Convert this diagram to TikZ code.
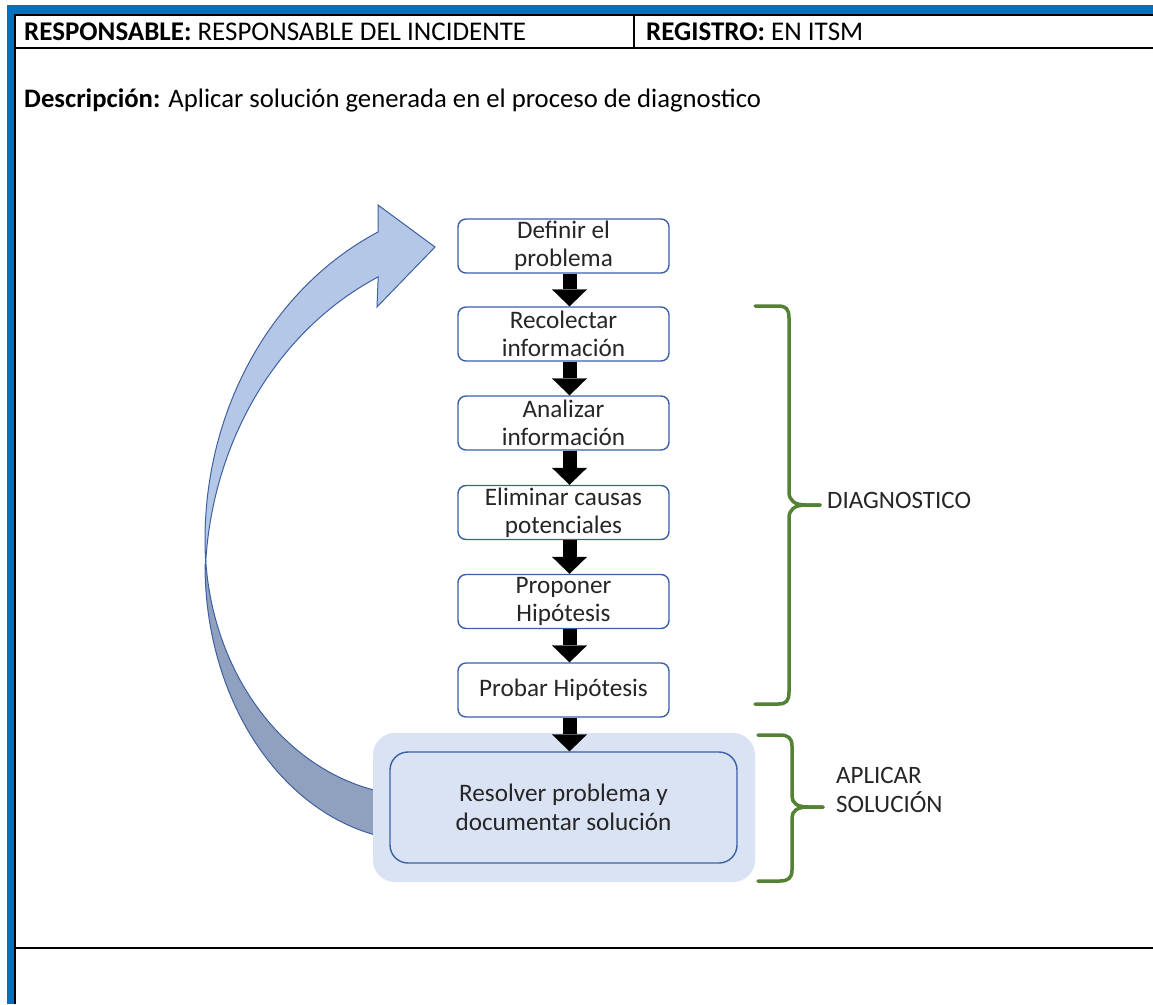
\documentclass[tikz,border=0pt]{standalone}
\usepackage{fontspec}
\setmainfont{Carlito}
\usetikzlibrary{arrows.meta}

\definecolor{pageblue}{RGB}{0,112,192}
\definecolor{boxline}{RGB}{58,96,168}
\definecolor{arrowline}{RGB}{62,96,160}
\definecolor{frontblue}{RGB}{180,199,231}
\definecolor{backblue}{RGB}{143,161,190}
\definecolor{paleblue}{RGB}{218,227,243}
\definecolor{bracegreen}{RGB}{84,130,53}
\definecolor{txt}{RGB}{38,38,38}

\newcommand\hdrfont{\fontsize{27}{30}\selectfont}
\newcommand\descfont{\fontsize{26.7}{30}\selectfont}
\newcommand\boxfont{\fontsize{25.2}{28}\selectfont}
\newcommand\lblfont{\fontsize{25}{29}\selectfont}

\tikzset{
  rule/.style={draw=black, line width=2pt},
  stepbox/.style={draw=boxline, line width=1.4pt, rounded corners=8pt, fill=white,
    minimum width=211pt, minimum height=54pt, inner sep=0pt, align=center,
    font=\boxfont, text=txt},
  blockarrow/.style={draw=black, line width=14pt,
    -{Triangle[width=35pt 0 0, length=17pt 0 0, line width=0.4pt 0 0]}},
  brace/.style={draw=bracegreen, line width=3.5pt, line cap=round},
  label/.style={font=\lblfont, text=txt, inner sep=0pt},
}

\begin{document}
\begin{tikzpicture}[x=1pt,y=-1pt]
\useasboundingbox (0,0) rectangle (1153,1004);
\fill[white] (0,0) rectangle (1153,1004);

% page frame
\fill[pageblue] (7,5) rectangle (1153,14);
\fill[pageblue] (7,5) rectangle (14,1004);

% table rules
\draw[rule] (15,15) -- (1153,15);
\draw[rule] (15,47.5) -- (1153,47.5);
\draw[rule] (634,15) -- (634,47.5);
\draw[draw=black, line width=1.5pt] (14.8,14) -- (14.8,1004);
\draw[rule] (15,948) -- (1153,948);

% header cells
\node[anchor=base west, inner sep=0pt, font=\hdrfont] (resp) at (24,40)
  {\textbf{RESPONSABLE:} RESPONSABLE DEL INCIDENTE};
\node[anchor=base west, inner sep=0pt, font=\hdrfont] (reg) at (646,40)
  {\textbf{REGISTRO:} EN ITSM};
\node[anchor=base west, inner sep=0pt, font=\descfont] (desc) at (24,107)
  {\textbf{Descripción:} Aplicar solución generada en el proceso de diagnostico};

% return arrow: back (shaded) band
\fill[backblue, draw=arrowline, line width=1pt]
  plot[domain=180:96.7, samples=60] ({420+215*cos(\x)},{565+276*sin(\x)})
  -- plot[domain=96.7:175, samples=60] ({420+215*cos(\x)},{540+256*sin(\x)})
  -- cycle;
% return arrow: front band with head
\fill[frontblue, draw=arrowline, line width=1pt, line join=miter]
  plot[domain=176.2:245, samples=60] ({505+300*cos(\x)},{540+340*sin(\x)})
  -- (378,205) -- (435,247) -- (377,307)
  -- plot[domain=245:183.8, samples=60] ({505+300*cos(\x)},{585+340*sin(\x)})
  -- cycle;

% solution panel
\fill[paleblue, rounded corners=22pt] (373,733) rectangle (755,882);
\node[draw=boxline, line width=1.4pt, fill=paleblue, rounded corners=18pt,
  minimum width=347pt, minimum height=111pt, inner sep=0pt, align=center,
  font=\fontsize{25.2}{29}\selectfont, text=txt] (res) at (563.5,807.5)
  {Resolver problema y\\documentar solución};

% process steps
\node[stepbox] (b1) at (563.5,246)   {Definir el\\problema};
\node[stepbox] (b2) at (563.5,334)   {Recolectar\\información};
\node[stepbox] (b3) at (563.5,423)   {Analizar\\información};
\node[stepbox] (b4) at (563.5,512.5) {Eliminar causas\\potenciales};
\node[stepbox] (b5) at (563.5,601.5) {Proponer\\Hipótesis};
\node[stepbox] (b6) at (563.5,690)   {Probar Hipótesis};

% step connectors
\foreach \a/\b in {b1/b2,b2/b3,b3/b4,b4/b5,b5/b6,b6/res}
  \draw[blockarrow] ([xshift=6pt]\a.south) -- ([xshift=6pt]\b.north);

% braces
\draw[brace] (755,306) -- (778,306) .. controls (786,306) and (789,309) .. (789,318)
  -- (789,492) .. controls (789,500) and (794,505) .. (806,505) -- (820,505);
\draw[brace] (820,505) -- (806,505) .. controls (794,505) and (789,510) .. (789,518)
  -- (789,692) .. controls (789,701) and (786,704) .. (778,704) -- (755,704);
\draw[brace] (758,735) -- (780,735) .. controls (788,735) and (792,738) .. (792,746)
  -- (792,796) .. controls (792,803) and (797,807) .. (808,807) -- (823,807);
\draw[brace] (823,807) -- (808,807) .. controls (797,807) and (792,811) .. (792,818)
  -- (792,870) .. controls (792,878) and (788,881) .. (780,881) -- (758,881);

% phase labels
\node[label, anchor=base west] (diag) at (827,508) {DIAGNOSTICO};
\node[label, anchor=west, align=left] (apl) at (836,790) {APLICAR\\SOLUCIÓN};
\end{tikzpicture}
\end{document}
